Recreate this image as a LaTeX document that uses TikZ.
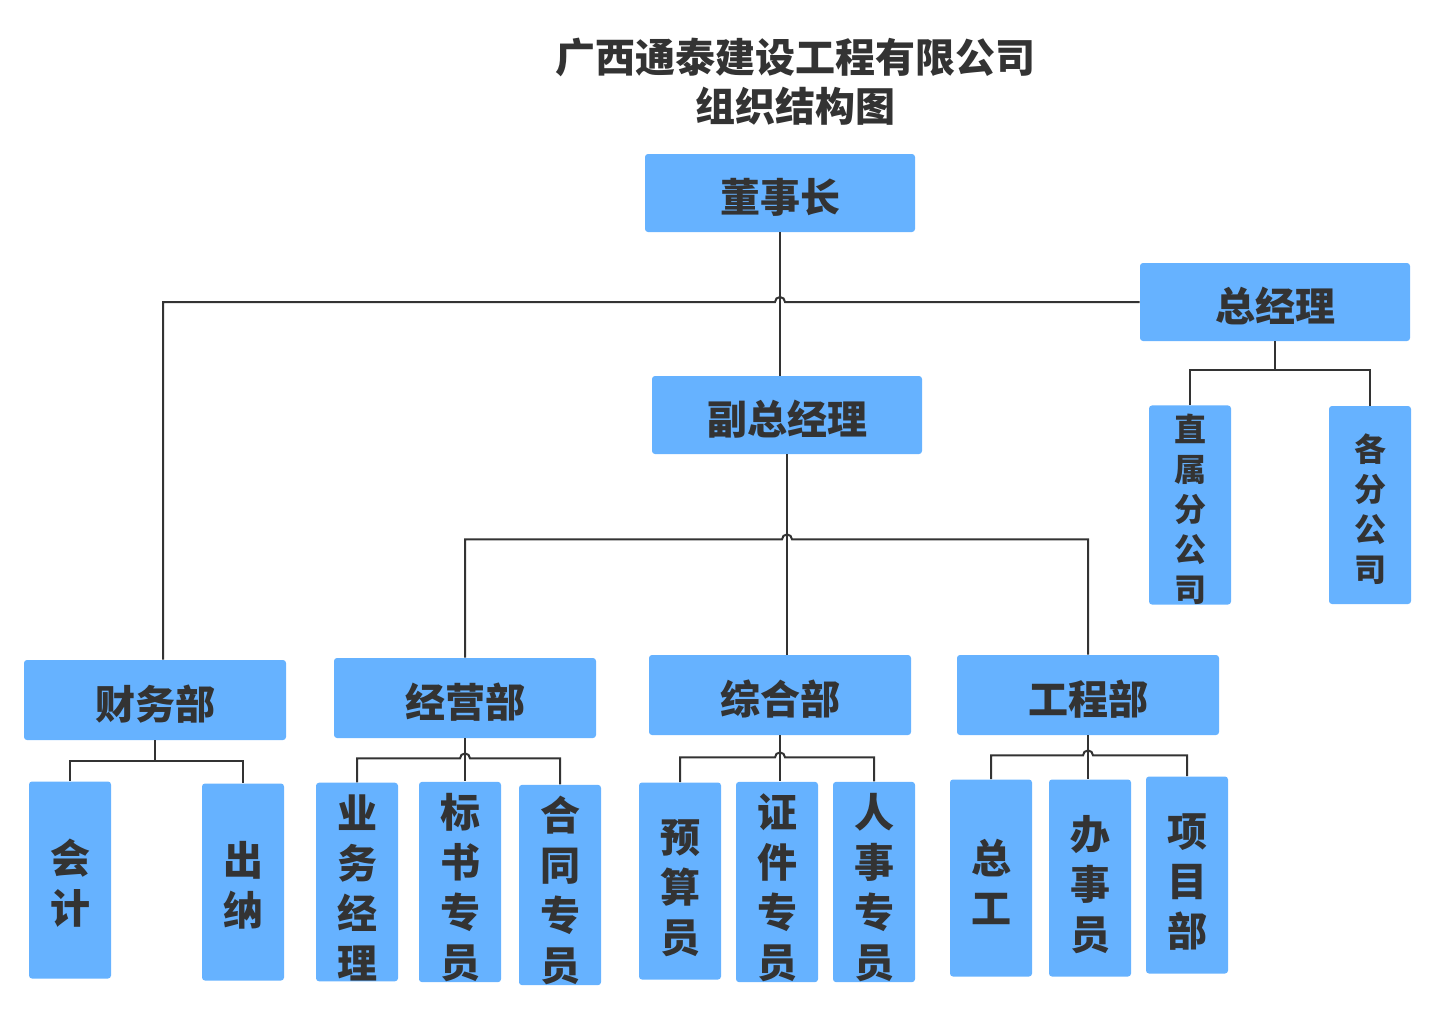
\documentclass[tikz,border=0pt]{standalone}
\usepackage{fontspec}
\newfontfamily\cjk{Noto Sans CJK SC}
\usepackage{tikz}
\usetikzlibrary{calc}
\definecolor{boxblue}{HTML}{66B2FF}
\definecolor{inkgray}{HTML}{333333}

\begin{document}
\begin{tikzpicture}[x=0.5pt, y=-0.5pt,
    wide/.style={fill=boxblue, rounded corners=1.5pt, inner sep=0pt,
      minimum width=135pt, minimum height=39pt, text=inkgray,
      text height=19.2pt, text depth=0pt,
      font=\cjk\bfseries\fontsize{20}{24}\selectfont},
    dept/.style={wide, minimum width=131pt, minimum height=40pt},
    col/.style={fill=boxblue, rounded corners=1.5pt, inner sep=0pt,
      minimum width=41pt, minimum height=98.5pt, align=center, text=inkgray,
      text height=#1,
      font=\cjk\bfseries\fontsize{20}{25}\selectfont},
    subco/.style={col=#1, minimum height=99pt,
      font=\cjk\bfseries\fontsize{16}{20}\selectfont},
    link/.style={draw=inkgray, line width=1pt}]
    \useasboundingbox (0,0) rectangle (1435,1009);

    % title
    \node[text=inkgray, align=center, font=\cjk\bfseries\fontsize{20}{24.5}\selectfont] (title) at (795,82)
      {广西通泰建设工程有限公司\\组织结构图};

    % top levels
    \node[wide] (dsz) at (780,193) {董事长};
    \node[wide] (zjl) at (1275,302) {总经理};
    \node[wide] (fzjl) at (787,415) {副总经理};
    \node[subco=98pt] (zsfgs) at (1190,505) {直\\属\\分\\公\\司};
    \node[subco=78pt] (gfgs) at (1370,505) {各\\分\\公\\司};

    % departments
    \node[dept] (cwb) at (155,700) {财务部};
    \node[dept] (jyb) at (465,698) {经营部};
    \node[dept] (zhb) at (780,695) {综合部};
    \node[dept] (gcb) at (1088,695) {工程部};

    % staff
    \node[col=45.6pt] (kj) at (70,880) {会\\计};
    \node[col=45.6pt] (cn) at (243,882) {出\\纳};
    \node[col=98pt] (ywjl) at (357,882) {业\\务\\经\\理};
    \node[col=98pt] (bszy) at (460,882) {标\\书\\专\\员};
    \node[col=98pt] (htzy) at (560,885) {合\\同\\专\\员};
    \node[col=73.6pt] (ysy) at (680,881) {预\\算\\员};
    \node[col=98pt] (zjzy) at (777,882) {证\\件\\专\\员};
    \node[col=98pt] (rszy) at (874,882) {人\\事\\专\\员};
    \node[col=45.6pt] (zg) at (991,878) {总\\工};
    \node[col=73.6pt] (bsy) at (1090,878) {办\\事\\员};
    \node[col=73.6pt] (xmb) at (1187,875) {项\\目\\部};

    % bars
    \coordinate (zbar) at ($(zjl.south)+(0,29)$);
    \coordinate (fbar) at ($(fzjl.south)+(0,85)$);
    \coordinate (cbar) at ($(cwb.south)+(0,21)$);
    \coordinate (jbar) at ($(jyb.south)+(0,20)$);
    \coordinate (hbar) at ($(zhb.south)+(0,22)$);
    \coordinate (gbar) at ($(gcb.south)+(0,20)$);

    % connectors
    \draw[link] (dsz.south) -- (dsz.south |- fzjl.north);
    \draw[link] (zjl.west) -- ([xshift=2.5pt]dsz.south |- zjl.west) arc (0:180:2.5pt)
      -- ([xshift=4pt]cwb.north |- zjl.west) -- ([xshift=4pt]cwb.north);
    \draw[link] (zjl.south) -- (zbar);
    \draw[link] (zsfgs.north) |- (zbar) -| (gfgs.north);

    \draw[link] (fzjl.south) -- (fzjl.south |- zhb.north);
    \draw[link] (jyb.north) |- ([xshift=-2.5pt]fbar) arc (180:0:2.5pt) -| (gcb.north);

    \draw[link] (cwb.south) -- (cbar);
    \draw[link] (kj.north) |- (cbar) -| (cn.north);

    \draw[link] (jyb.south) -- (jyb.south |- bszy.north);
    \draw[link] (ywjl.north) |- ([xshift=-2.5pt]jbar) arc (180:0:2.5pt) -| (htzy.north);

    \draw[link] (zhb.south) -- (zhb.south |- zjzy.north);
    \draw[link] (ysy.north) |- ([xshift=-2.5pt]hbar) arc (180:0:2.5pt) -| (rszy.north);

    \draw[link] (gcb.south) -- (gcb.south |- bsy.north);
    \draw[link] (zg.north) |- ([xshift=-2.5pt]gbar) arc (180:0:2.5pt) -| (xmb.north);
\end{tikzpicture}
\end{document}
